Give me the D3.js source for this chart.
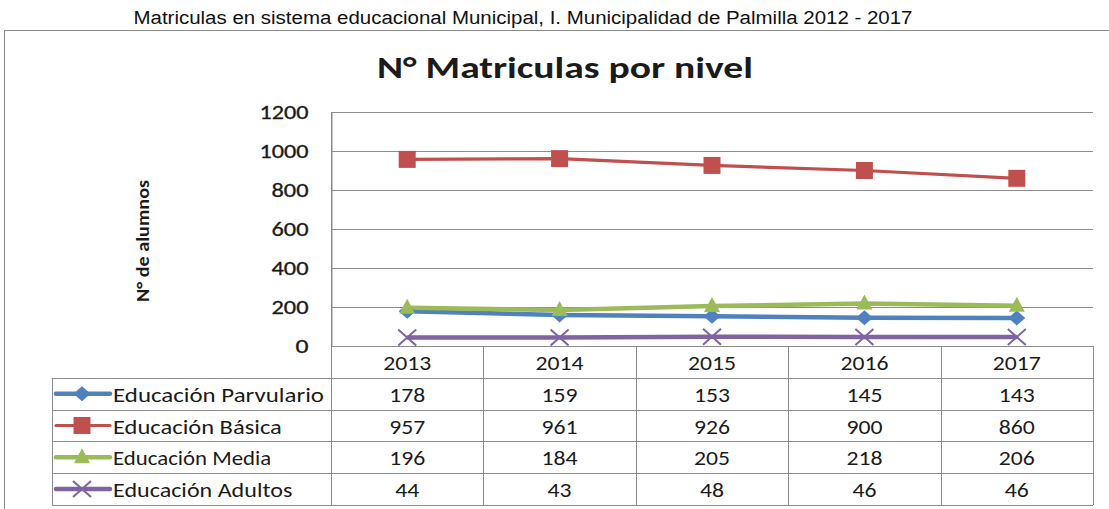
<!DOCTYPE html>
<html>
<head>
<meta charset="utf-8">
<script src="https://cdn.jsdelivr.net/npm/d3@7"></script>
<style>
  body { margin: 0; background: #fff; }
  svg text { fill: #1b1b1b; }
</style>
</head>
<body>
<svg id="chart" width="1109" height="509"></svg>
<script>
// data
const years = ['2013', '2014', '2015', '2016', '2017'];
const parvulario = [178, 159, 153, 145, 143];
const basica = [957, 961, 926, 900, 860];
const media = [196, 184, 205, 218, 206];
const adultos = [44, 43, 48, 46, 46];
const yTicks = [0, 200, 400, 600, 800, 1000, 1200];

const series = [
  { name: 'Educación Parvulario', values: parvulario, color: '#4f81bd', marker: 'diamond', width: 4.5 },
  { name: 'Educación Básica', values: basica, color: '#c0504d', marker: 'square', width: 3.2 },
  { name: 'Educación Media', values: media, color: '#9bbb59', marker: 'triangle', width: 4.5 },
  { name: 'Educación Adultos', values: adultos, color: '#8064a2', marker: 'cross', width: 4.5 },
];

const FONT = "Carlito, Calibri, 'Open Sans', sans-serif";
const DIGIT_W = 12; // the reference's digits are rendered wide
const svg = d3.select('#chart');

// caption above the chart box
svg.append('text').attr('x', 523).attr('y', 24).attr('text-anchor', 'middle')
  .attr('font-family', "'Liberation Sans Narrow', 'Arial Narrow', 'Liberation Sans', sans-serif")
  .attr('font-size', 18).attr('textLength', 779).attr('lengthAdjust', 'spacingAndGlyphs')
  .style('fill', '#111').text('Matriculas en sistema educacional Municipal, I. Municipalidad de Palmilla 2012 - 2017');

// chart frame (runs off the right and bottom edges)
svg.append('rect').attr('x', 4.5).attr('y', 30.5).attr('width', 1120).attr('height', 500)
  .attr('fill', 'none').attr('stroke', '#8a8a8a').attr('stroke-width', 1);

svg.append('text').attr('x', 565).attr('y', 78).attr('text-anchor', 'middle')
  .attr('font-family', FONT).attr('font-weight', 'bold').attr('font-size', 31)
  .attr('textLength', 376).attr('lengthAdjust', 'spacingAndGlyphs')
  .text('N° Matriculas por nivel');

const L = 331, R = 1093, T = 112, B = 346;
const x = d3.scaleBand().domain(years).range([L, R]);
const y = d3.scaleLinear().domain([0, 1200]).range([B, T]);
const cx = (yr) => x(yr) + x.bandwidth() / 2;

// gridlines
svg.append('g').selectAll('line').data(yTicks.filter((t) => t > 0)).join('line')
  .attr('x1', L).attr('x2', R).attr('y1', (d) => Math.round(y(d)) + 0.5).attr('y2', (d) => Math.round(y(d)) + 0.5)
  .attr('stroke', '#8c8c8c').attr('stroke-width', 1);

// y axis
const yAxis = svg.append('g').attr('transform', `translate(${L + 0.5},0)`)
  .call(d3.axisLeft(y).tickValues(yTicks).tickFormat(d3.format('d')).tickSize(0).tickPadding(23));
yAxis.select('.domain').attr('stroke', '#8c8c8c');
yAxis.selectAll('text').attr('font-family', FONT).attr('font-size', 20)
  .attr('textLength', (d) => String(d).length * DIGIT_W + 1).attr('lengthAdjust', 'spacingAndGlyphs')
  .style('fill', '#1b1b1b').style('stroke', '#1b1b1b').style('stroke-width', 0.3);

svg.append('text').attr('transform', 'translate(149,241) rotate(-90)').attr('text-anchor', 'middle')
  .attr('font-family', FONT).attr('font-weight', 'bold').attr('font-size', 19)
  .attr('textLength', 122).attr('lengthAdjust', 'spacingAndGlyphs')
  .text('N° de alumnos');

// data table under the plot
const tableLeft = 52, rowH = 31.8;
const rowY = (i) => B + rowH * i; // i = 0 header, 1..4 series rows
const tbl = svg.append('g').attr('stroke', '#8c8c8c').attr('stroke-width', 1);
d3.range(0, 6).forEach((i) => {
  const yy = Math.round(rowY(i)) + 0.5;
  tbl.append('line').attr('x1', i === 0 ? L : tableLeft).attr('x2', R).attr('y1', yy).attr('y2', yy);
});
tbl.append('line').attr('x1', tableLeft + 0.5).attr('x2', tableLeft + 0.5).attr('y1', rowY(1)).attr('y2', rowY(5));
years.forEach((yr, i) => {
  const xx = Math.round(x(yr)) + 0.5;
  tbl.append('line').attr('x1', xx).attr('x2', xx).attr('y1', i === 0 ? T : B).attr('y2', rowY(5));
});
tbl.append('line').attr('x1', R + 0.5).attr('x2', R + 0.5).attr('y1', B).attr('y2', rowY(5));

const cellText = (sel) => sel.attr('font-family', FONT).attr('font-size', 20).attr('text-anchor', 'middle')
  .attr('dominant-baseline', 'central')
  .attr('textLength', (d) => String(d).length * DIGIT_W).attr('lengthAdjust', 'spacingAndGlyphs');

svg.append('g').selectAll('text').data(years).join('text').call(cellText)
  .attr('x', cx).attr('y', rowY(0) + rowH / 2 + 1).text((d) => d);

series.forEach((s, si) => {
  const my = rowY(si + 1) + rowH / 2 + 1;
  svg.append('g').selectAll('text').data(s.values).join('text').call(cellText)
    .attr('x', (d, i) => cx(years[i])).attr('y', my).text((d) => d);
  svg.append('text').attr('x', 113).attr('y', my).attr('font-family', FONT).attr('font-size', 20)
    .attr('dominant-baseline', 'central').attr('lengthAdjust', 'spacingAndGlyphs')
    .attr('textLength', s.name.length * 10.55).text(s.name);
  // legend key
  svg.append('line').attr('x1', 56).attr('x2', 110).attr('y1', my - 1).attr('y2', my - 1)
    .attr('stroke', s.color).attr('stroke-width', s.width).attr('stroke-linecap', 'round');
  drawMarker(svg, s, 82, my - 1);
});

// lines + markers
const line = d3.line().x((d, i) => cx(years[i])).y((d) => y(d));
series.forEach((s) => {
  svg.append('path').datum(s.values).attr('d', line).attr('fill', 'none')
    .attr('stroke', s.color).attr('stroke-width', s.width).attr('stroke-linejoin', 'round');
});
series.forEach((s) => {
  s.values.forEach((v, i) => drawMarker(svg, s, cx(years[i]), y(v)));
});

function drawMarker(g, s, px, py) {
  const shapes = {
    diamond: 'M0,-7.5L8.5,0L0,7.5L-8.5,0Z',
    square: 'M-8.5,-8.5H8.5V8.5H-8.5Z',
    triangle: 'M0,-9L8,6H-8Z',
    cross: 'M-9,-8L9,8M-9,8L9,-8',
  };
  const p = g.append('path').attr('d', shapes[s.marker]).attr('transform', `translate(${px},${py})`);
  if (s.marker === 'cross') p.attr('stroke', s.color).attr('stroke-width', 2).attr('fill', 'none');
  else p.attr('fill', s.color);
}
</script>
</body>
</html>
